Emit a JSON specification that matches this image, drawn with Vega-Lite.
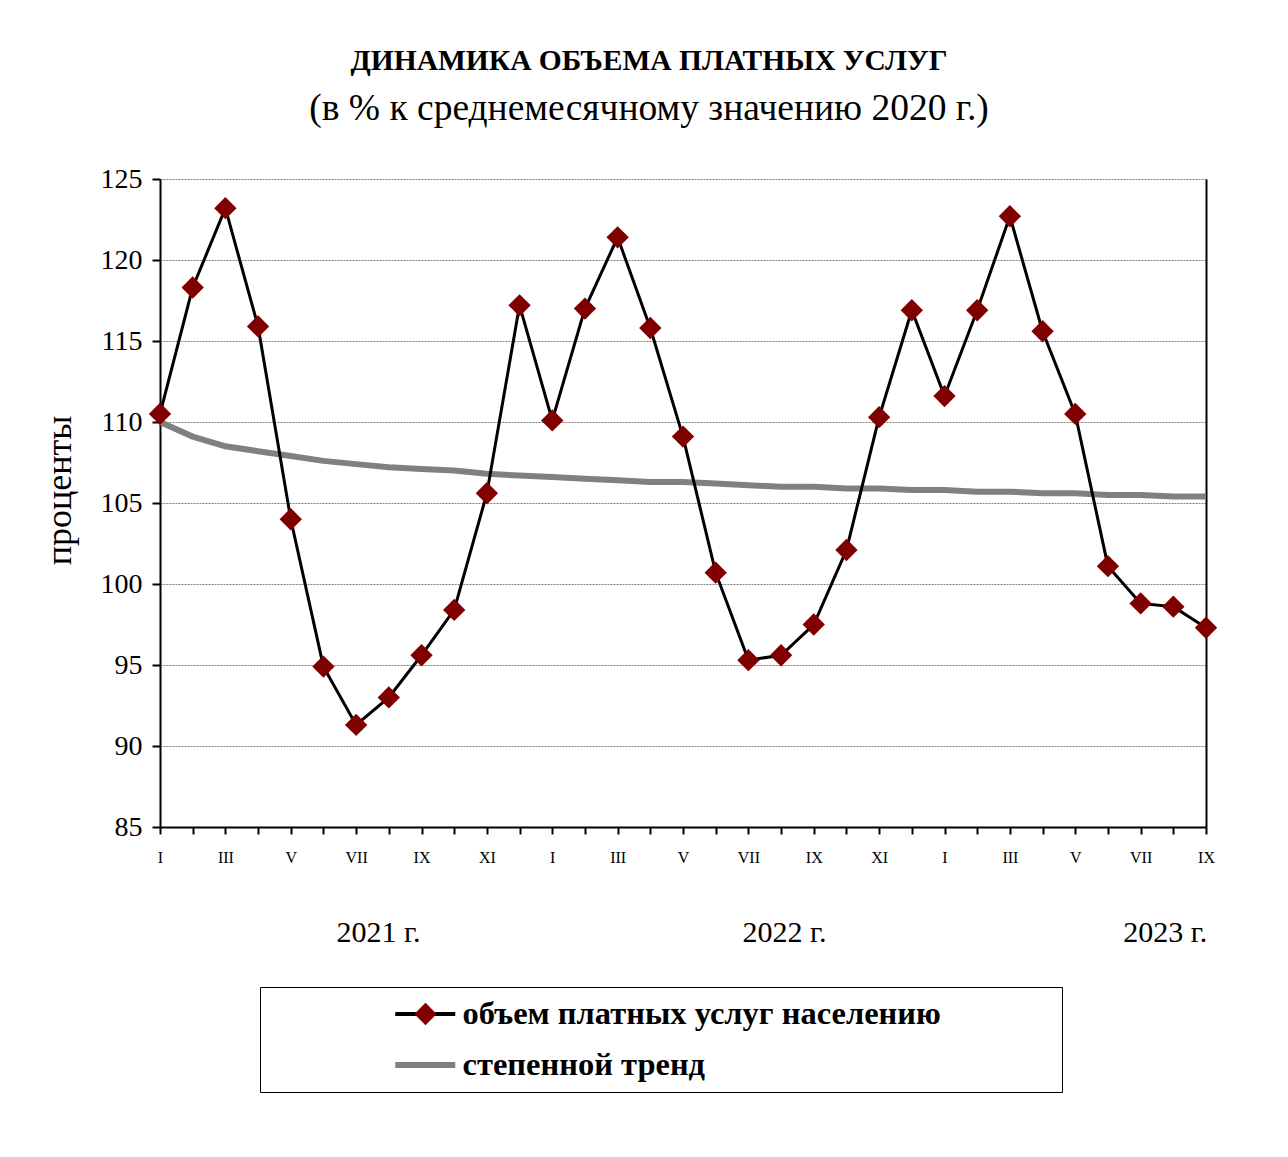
{
  "$schema": "https://vega.github.io/schema/vega-lite/v6.json",
  "width": 1046,
  "height": 648,
  "autosize": {"type": "none"},
  "padding": {"left": 160, "top": 179, "right": 82, "bottom": 330},
  "background": "white",
  "config": {"view": {"stroke": null}, "font": "Liberation Serif"},
  "title": {
    "text": "ДИНАМИКА ОБЪЕМА ПЛАТНЫХ УСЛУГ",
    "subtitle": "(в % к среднемесячному значению 2020 г.)",
    "font": "Liberation Serif",
    "fontSize": 29.5,
    "fontWeight": "bold",
    "color": "black",
    "subtitleFont": "Liberation Serif",
    "subtitleFontSize": 37.5,
    "subtitleColor": "black",
    "subtitlePadding": 13,
    "anchor": "middle",
    "frame": "group",
    "dx": -34,
    "offset": 37
  },
  "data": {
    "values": [
      {"n": 1, "value": 110.5, "trend": 110.0},
      {"n": 2, "value": 118.3, "trend": 109.1},
      {"n": 3, "value": 123.2, "trend": 108.5},
      {"n": 4, "value": 115.9, "trend": 108.2},
      {"n": 5, "value": 104.0, "trend": 107.9},
      {"n": 6, "value": 94.9, "trend": 107.6},
      {"n": 7, "value": 91.3, "trend": 107.4},
      {"n": 8, "value": 93.0, "trend": 107.2},
      {"n": 9, "value": 95.6, "trend": 107.1},
      {"n": 10, "value": 98.4, "trend": 107.0},
      {"n": 11, "value": 105.6, "trend": 106.8},
      {"n": 12, "value": 117.2, "trend": 106.7},
      {"n": 13, "value": 110.1, "trend": 106.6},
      {"n": 14, "value": 117.0, "trend": 106.5},
      {"n": 15, "value": 121.4, "trend": 106.4},
      {"n": 16, "value": 115.8, "trend": 106.3},
      {"n": 17, "value": 109.1, "trend": 106.3},
      {"n": 18, "value": 100.7, "trend": 106.2},
      {"n": 19, "value": 95.3, "trend": 106.1},
      {"n": 20, "value": 95.6, "trend": 106.0},
      {"n": 21, "value": 97.5, "trend": 106.0},
      {"n": 22, "value": 102.1, "trend": 105.9},
      {"n": 23, "value": 110.3, "trend": 105.9},
      {"n": 24, "value": 116.9, "trend": 105.8},
      {"n": 25, "value": 111.6, "trend": 105.8},
      {"n": 26, "value": 116.9, "trend": 105.7},
      {"n": 27, "value": 122.7, "trend": 105.7},
      {"n": 28, "value": 115.6, "trend": 105.6},
      {"n": 29, "value": 110.5, "trend": 105.6},
      {"n": 30, "value": 101.1, "trend": 105.5},
      {"n": 31, "value": 98.8, "trend": 105.5},
      {"n": 32, "value": 98.6, "trend": 105.4},
      {"n": 33, "value": 97.3, "trend": 105.4}
    ]
  },
  "layer": [
    {
      "mark": {"type": "line", "strokeWidth": 6},
      "encoding": {
        "x": {
          "field": "n", "type": "quantitative",
          "scale": {"domain": [1, 33], "nice": false, "zero": false},
          "axis": {
            "orient": "bottom", "title": null, "grid": false,
            "values": [1,2,3,4,5,6,7,8,9,10,11,12,13,14,15,16,17,18,19,20,21,22,23,24,25,26,27,28,29,30,31,32,33],
            "domainColor": "black", "domainWidth": 2,
            "tickColor": "black", "tickWidth": 2, "tickSize": 7,
            "labelFont": "Liberation Serif", "labelFontSize": 16, "labelColor": "black",
            "labelPadding": 15, "labelFlush": false, "labelOverlap": false,
            "labelExpr": "datum.value % 2 == 1 ? ['I','II','III','IV','V','VI','VII','VIII','IX','X','XI','XII'][(datum.value - 1) % 12] : ''"
          }
        },
        "y": {
          "field": "trend", "type": "quantitative",
          "scale": {"domain": [85, 125], "nice": false, "zero": false},
          "axis": {
            "orient": "left",
            "values": [85, 90, 95, 100, 105, 110, 115, 120, 125],
            "grid": true, "gridColor": "#808080", "gridDash": [2, 1], "gridWidth": 1,
            "domainColor": "black", "domainWidth": 2,
            "tickColor": "black", "tickWidth": 2, "tickSize": 8,
            "labelFont": "Liberation Serif", "labelFontSize": 28, "labelColor": "black",
            "labelPadding": 10,
            "title": "проценты",
            "titleFont": "Liberation Serif", "titleFontSize": 36, "titleFontWeight": "normal",
            "titleColor": "black", "titleX": -90, "titleY": 311,
            "titleBaseline": "alphabetic", "titleAlign": "center", "titleAngle": -90
          }
        },
        "stroke": {
          "datum": "степенной тренд", "type": "nominal",
          "scale": {"domain": ["объем платных услуг населению", "степенной тренд"], "range": ["black", "#808080"]},
          "legend": {
            "title": null, "orient": "none", "legendX": 100, "legendY": 808,
            "symbolType": "stroke", "symbolSize": 3600, "symbolStrokeWidth": 4,
            "clipHeight": 48, "rowPadding": 3, "padding": 3,
            "strokeColor": "black",
            "symbolOffset": 146, "labelOffset": 21,
            "labelFont": "Liberation Serif", "labelFontSize": 32.5, "labelFontWeight": "bold",
            "labelColor": "black", "labelLimit": 1000,
            "encode": {
              "symbols": {"update": {"strokeWidth": {"signal": "datum.value === 'степенной тренд' ? 6 : 4"}}},
              "entries": {"update": {"width": {"value": 796}}}
            }
          }
        }
      }
    },
    {
      "mark": {"type": "line", "strokeWidth": 3},
      "encoding": {
        "x": {
          "field": "n", "type": "quantitative",
          "scale": {"domain": [1, 33], "nice": false, "zero": false},
          "axis": {
            "orient": "bottom", "title": null, "grid": false,
            "values": [7.67, 20.09, 31.74],
            "domain": false, "ticks": false,
            "labelFont": "Liberation Serif", "labelFontSize": 30, "labelColor": "black",
            "labelPadding": 90, "labelFlush": false, "labelOverlap": false,
            "labelExpr": "datum.value < 13 ? '2021 г.' : (datum.value < 25 ? '2022 г.' : '2023 г.')"
          }
        },
        "y": {
          "field": "value", "type": "quantitative",
          "scale": {"domain": [85, 125], "nice": false, "zero": false},
          "axis": null
        },
        "stroke": {"datum": "объем платных услуг населению", "type": "nominal"}
      }
    },
    {
      "mark": {"type": "point", "shape": "diamond", "filled": true, "size": 500, "opacity": 1},
      "encoding": {
        "x": {
          "field": "n", "type": "quantitative",
          "scale": {"domain": [1, 33], "nice": false, "zero": false},
          "axis": null
        },
        "y": {
          "field": "value", "type": "quantitative",
          "scale": {"domain": [85, 125], "nice": false, "zero": false},
          "axis": {
            "orient": "right", "title": null, "labels": false, "ticks": false, "grid": false,
            "domainColor": "black", "domainWidth": 2
          }
        },
        "fill": {
          "datum": "объем платных услуг населению", "type": "nominal",
          "scale": {"domain": ["объем платных услуг населению"], "range": ["#800000"]},
          "legend": {
            "title": null, "orient": "none", "legendX": 100, "legendY": 808,
            "symbolType": "diamond", "symbolSize": 500, "symbolStrokeWidth": 0,
            "clipHeight": 48, "padding": 3, "symbolOffset": 151,
            "labelExpr": "''", "labelFontSize": 1
          }
        }
      }
    }
  ],
  "resolve": {"axis": {"x": "independent", "y": "independent"}}
}
